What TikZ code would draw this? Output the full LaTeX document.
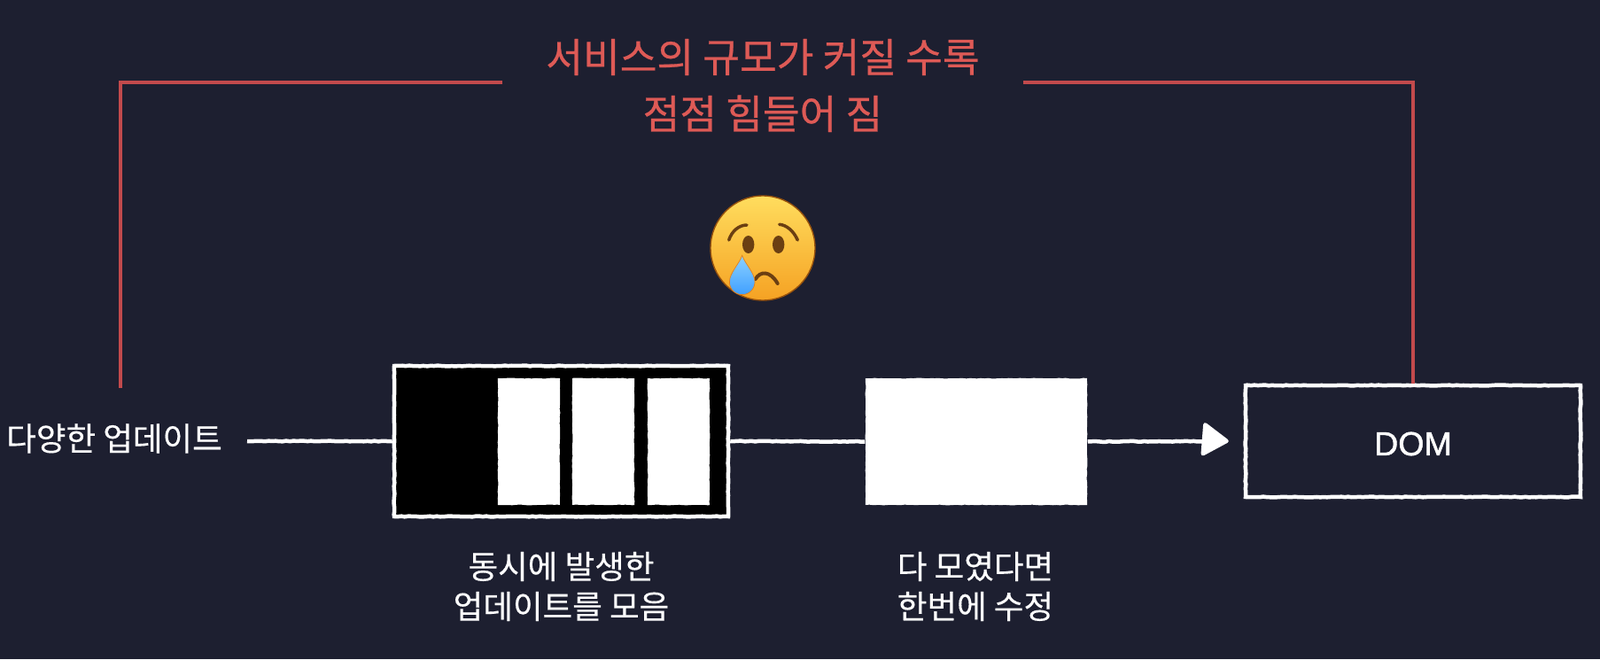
\documentclass[tikz,border=0pt]{standalone}
\usepackage{fontspec}
\setmainfont[FakeBold=0.3]{Noto Sans CJK KR}
\newfontfamily\titlefont[FakeBold=0.6]{Noto Sans CJK KR}
\newfontfamily\domfont[FakeBold=1.2]{Liberation Sans}
\usetikzlibrary{arrows.meta,decorations.pathmorphing}

\definecolor{bgdark}{HTML}{1D1F30}
\definecolor{chalkred}{HTML}{DE5A56}
\definecolor{redrule}{HTML}{C24A4C}
\definecolor{facetop}{HTML}{FFDD5E}
\definecolor{facebottom}{HTML}{F5A223}
\definecolor{facedark}{HTML}{6B3F12}

\tikzset{
    rough/.style={decorate,decoration={random steps,segment length=0.04cm,amplitude=0.004cm}},
    linkline/.style={draw=white,line width=0.045cm,rough},
    redline/.style={draw=redrule,line width=0.045cm},
    boxwhite/.style={draw=white,line width=0.045cm,rough},
    slotwhite/.style={fill=white,minimum width=0.70cm,minimum height=1.43cm,inner sep=0pt,rough},
    whitelabel/.style={text=white,font=\fontsize{10.4}{12.8}\selectfont,align=center,inner sep=0pt},
}

\begin{document}
\begin{tikzpicture}
    \useasboundingbox (0,0) rectangle (18.06,7.44);
    \fill[bgdark] (0,0) rectangle (18.06,7.44);

    \coordinate (startpoint) at (2.79,2.46);
    \coordinate (leftfoot) at (1.36,3.06);

    \node[whitelabel] (updates) at (1.29,2.49) {다양한 업데이트};

    \node[boxwhite,fill=black,minimum width=3.77cm,minimum height=1.70cm] (queue) at (6.335,2.46) {};
    \foreach \x/\name in {5.97/slota,6.81/slotb,7.66/slotc}
        \node[slotwhite] (\name) at (\x,2.455) {};

    \node[slotwhite,minimum width=2.50cm] (block) at (11.02,2.455) {};
    \node[boxwhite,minimum width=3.78cm,minimum height=1.26cm] (dom) at (15.95,2.46) {};
    \node[whitelabel,font=\domfont\fontsize{10.7}{12.8}\selectfont] (domlabel) at (15.95,2.43) {DOM};

    \draw[linkline] (startpoint) -- (queue.west);
    \draw[linkline] (queue.east) -- (block.west);
    \draw[linkline,-{Triangle[length=0.32cm,width=0.40cm,round]}] (block.east) -- ([xshift=-0.17cm]dom.west);

    \node[whitelabel] (collect) at (6.335,0.82) {동시에 발생한\\업데이트를 모음};
    \node[whitelabel] (apply) at (11.01,0.82) {다 모였다면\\한번에 수정};

    \node[text=chalkred,font=\titlefont\fontsize{12.9}{18.2}\selectfont,align=center,inner sep=0pt,minimum width=5.86cm] (title) at (8.61,6.475) {서비스의 규모가 커질 수록\\점점 힘들어 짐};

    \draw[redline] ([yshift=0.035cm]title.west) -| (leftfoot);
    \draw[redline] ([yshift=0.035cm]title.east) -| (dom.north);

    % crying face
    \begin{scope}[shift={(8.61,4.64)}]
        \shade[top color=facetop,bottom color=facebottom,draw=facedark!70!orange,thin] (0,0) circle (0.59);
        \draw[facedark,line width=0.035cm,line cap=round] (-0.383,0.09) .. controls (-0.35,0.19) and (-0.27,0.26) .. (-0.18,0.26);
        \draw[facedark,line width=0.035cm,line cap=round] (0.393,0.09) .. controls (0.35,0.19) and (0.27,0.26) .. (0.187,0.267);
        \fill[facedark] (-0.163,0.04) ellipse (0.067 and 0.10);
        \fill[facedark] (0.177,0.04) ellipse (0.067 and 0.10);
        \draw[facedark,line width=0.04cm,line cap=round] (-0.083,-0.35) .. controls (-0.03,-0.26) and (0.08,-0.25) .. (0.167,-0.40);
        \shade[top color=cyan!60!blue!45!white,middle color=white!85!cyan,bottom color=cyan!50!blue!75!white,draw=orange!60!brown,very thin] (-0.233,-0.083) .. controls (-0.20,-0.18) and (-0.09,-0.28) .. (-0.09,-0.383) arc (0:-180:0.143) .. controls (-0.376,-0.28) and (-0.266,-0.18) .. cycle;
    \end{scope}
\end{tikzpicture}
\end{document}
